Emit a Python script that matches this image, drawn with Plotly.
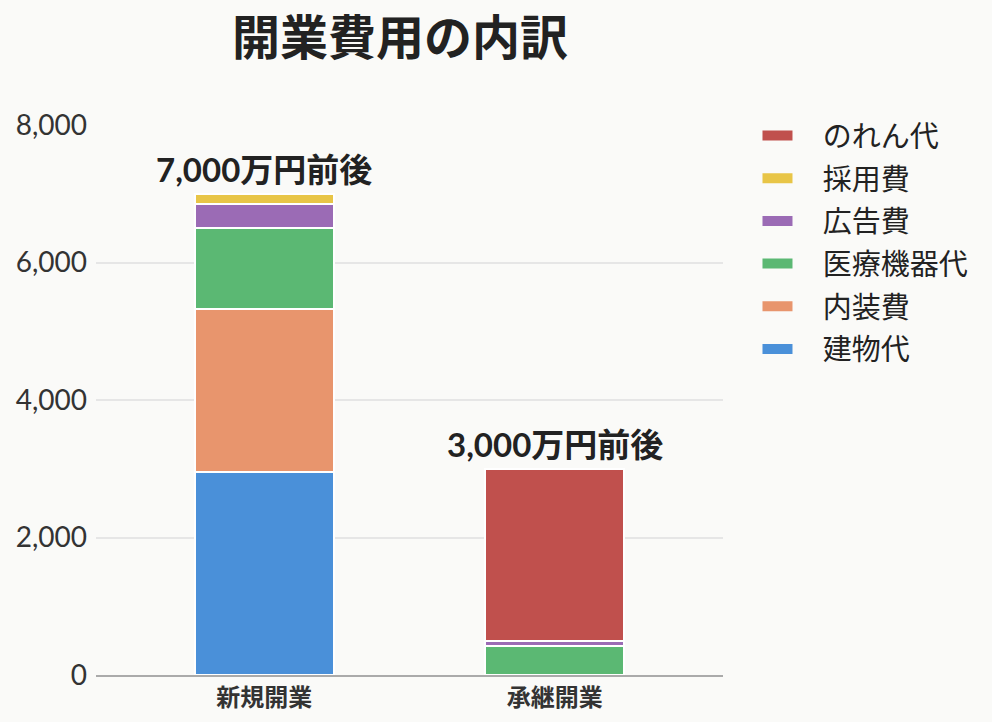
import plotly.graph_objects as go

# 開業パターン
categories = ["新規開業", "承継開業"]

# 費目ごとの金額（万円）: 積み上げ順（下から）
items = ["建物代", "内装費", "医療機器代", "広告費", "採用費", "のれん代"]
building = [2950, 0]
interior = [2380, 0]
equipment = [1170, 420]
advertising = [350, 80]
recruiting = [150, 0]
goodwill = [0, 2500]

totals_label = ["7,000万円前後", "3,000万円前後"]
totals = [7000, 3000]

colors = ["#4a90d9", "#e8956d", "#5bb873", "#9b6bb5", "#e8c547", "#c0504d"]
series = [building, interior, equipment, advertising, recruiting, goodwill]

jp_font = "Noto Sans CJK JP"
num_font = "Lato, Noto Sans CJK JP"

fig = go.Figure()
for name, vals, col in zip(items, series, colors):
    fig.add_trace(go.Bar(
        x=categories, y=vals, name=name, showlegend=False,
        marker=dict(color=col, line=dict(color="white", width=2)),
        width=0.48,
    ))

# 凡例用（横長の色見本）: 上から のれん代 → 建物代
for name, col in zip(items[::-1], colors[::-1]):
    fig.add_trace(go.Scatter(
        x=[None], y=[None], mode="lines",
        name="\u00a0\u00a0\u00a0\u2009" + name,
        legendgroup=name, line=dict(color=col, width=16),
    ))

# 合計ラベル
for cat, tot, lab in zip(categories, totals, totals_label):
    fig.add_annotation(
        x=cat, y=tot, text="<b>" + lab + "</b>", showarrow=False,
        yanchor="bottom", yshift=3,
        font=dict(family=num_font, size=33, color="#222"),
    )

fig.update_layout(
    barmode="stack",
    width=992, height=722,
    title=dict(text="<b>開業費用の内訳</b>", x=400 / 992, xanchor="center",
               y=1 - 38 / 722, yanchor="middle",
               font=dict(family=jp_font, size=48, color="#222")),
    paper_bgcolor="#fafaf8",
    plot_bgcolor="#fafaf8",
    margin=dict(l=96, r=269, t=125, b=47),
    font=dict(family=jp_font, color="#333"),
    legend=dict(x=1.055, y=1.027, xanchor="left", yanchor="top",
                font=dict(family=jp_font, size=29, color="#222"),
                tracegroupgap=2, itemwidth=30, traceorder="grouped"),
    showlegend=True,
)

fig.update_xaxes(
    range=[-0.58, 1.58],
    tickfont=dict(family=jp_font, size=24, color="#333", weight="bold"),
    showline=True, linecolor="#aaaaaa", linewidth=2,
    ticks="", automargin=False,
)
fig.update_yaxes(
    range=[0, 8000],
    tickvals=[0, 2000, 4000, 6000, 8000],
    tickformat=",d",
    tickfont=dict(family="Lato", size=28, color="#333"),
    gridcolor="#e6e6e6", gridwidth=1.5,
    zeroline=False, automargin=False,
    ticklabelstandoff=8,
)

fig.write_html("out.html", config={"displayModeBar": False},
               post_script="document.body.style.margin='0';")
